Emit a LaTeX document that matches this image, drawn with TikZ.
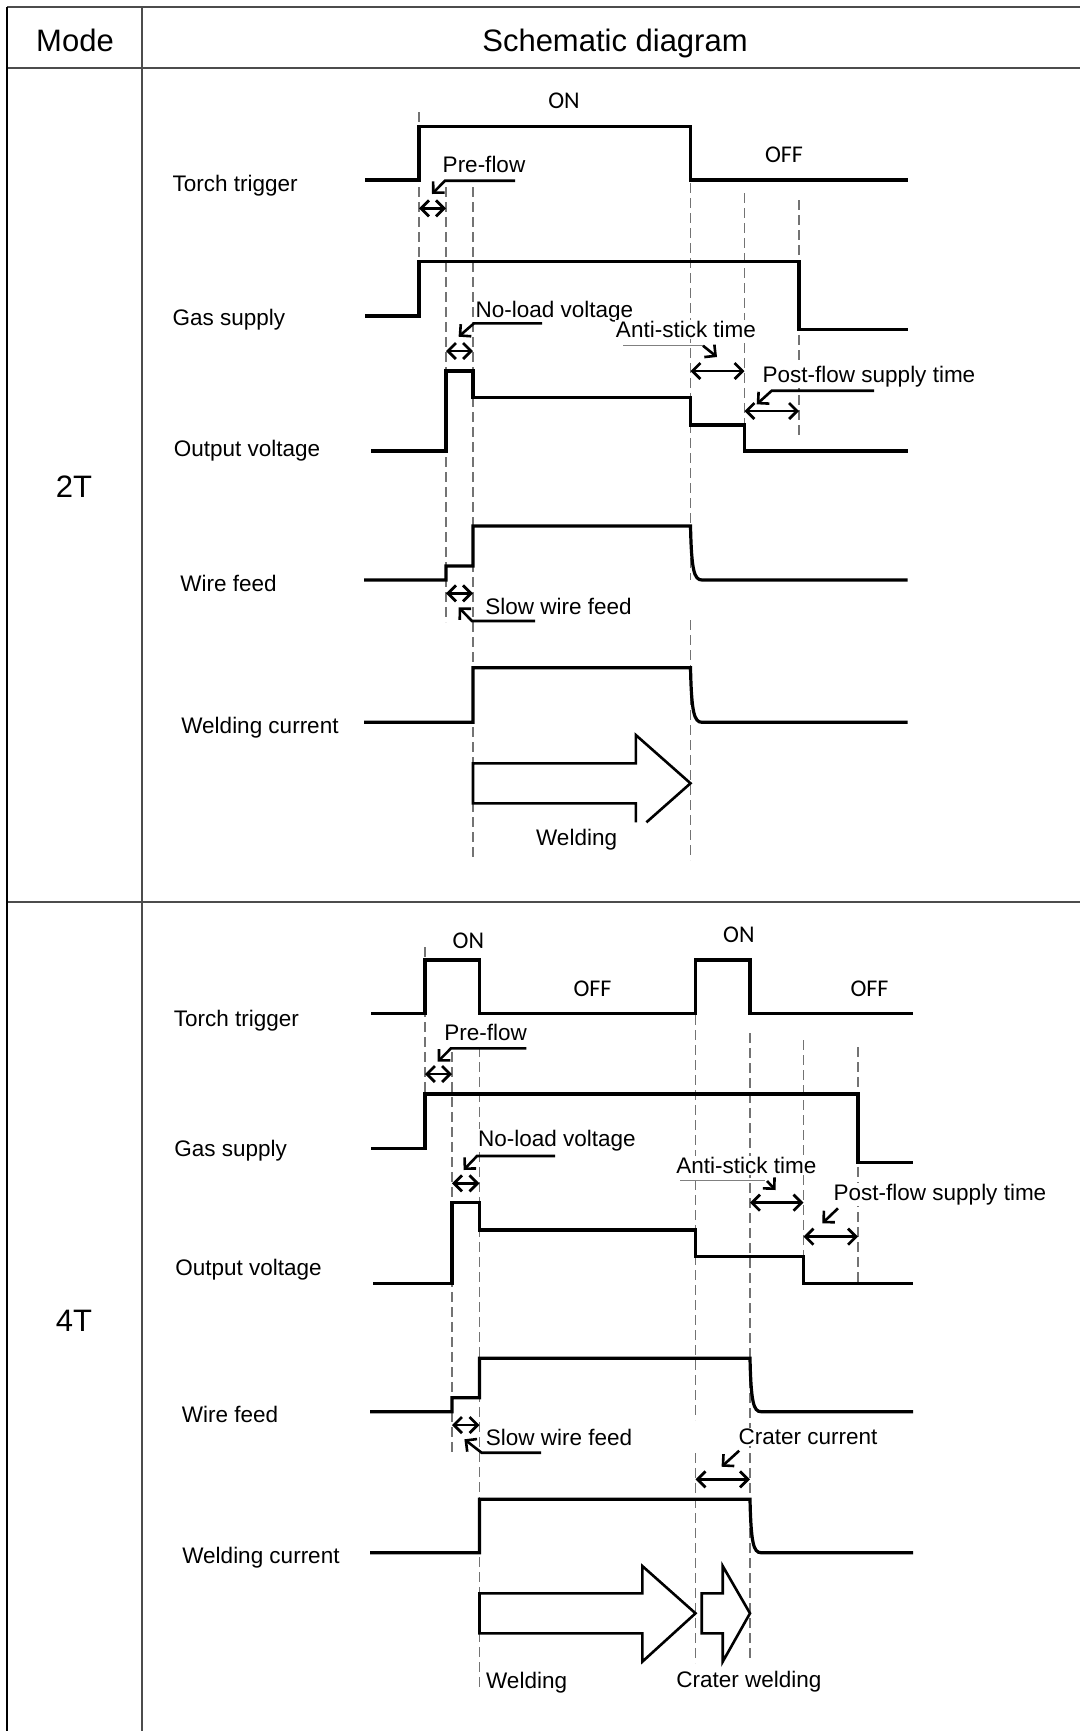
\documentclass[tikz,border=0pt]{standalone}
\usepackage{fontspec}
\setmainfont{Liberation Sans}
\newfontfamily\onofffont{Carlito}
\usetikzlibrary{arrows.meta}

\begin{document}
\begin{tikzpicture}[x=0.5pt, y=-0.5pt,
  sig/.style={line width=1.6pt, line join=miter},
  blk/.style={line width=1.3pt, line join=miter},
  guide/.style={black!55, line width=0.6pt, dash pattern=on 5pt off 2.5pt},
  span/.style={line width=1.4pt, {Straight Barb[length=4pt,width=8pt]}-{Straight Barb[length=4pt,width=8pt]}},
  lead/.style={line width=1.3pt, -{Straight Barb[length=4pt,width=8pt]}},
  tbl/.style={black!70, line width=1pt},
  lbl/.style={font=\fontsize{11.25}{13}\selectfont, inner sep=0pt, anchor=base west},
  note/.style={font=\fontsize{11.25}{13}\selectfont, inner sep=0.5pt, fill=white, anchor=base},
  trig/.style={font=\onofffont\fontsize{12}{14}\selectfont, inner sep=0pt, anchor=base},
  hdr/.style={font=\fontsize{15.5}{18}\selectfont, inner sep=0pt, anchor=base}]
  \useasboundingbox (0,0) rectangle (1080,1731);

  % Table
  \draw[tbl] (7,7.3) -- (1080,7.3);
  \draw[tbl] (7,68.3) -- (1080,68.3);
  \draw[tbl] (7,901.7) -- (1080,901.7);
  \draw[black, line width=1pt] (7.3,7.3) -- (7.3,1731);
  \draw[tbl] (141.7,7.3) -- (141.7,1731);
  \node[hdr] (mode) at (75,51) {Mode};
  \node[hdr] (schem) at (615,51) {Schematic diagram};
  \node[hdr] (m2t) at (74,497) {2T};
  \node[hdr] (m4t) at (74,1331) {4T};

  % 2T: guides
  \draw[guide] (419,112) -- (419,262);
  \draw[guide] (446,187) -- (446,622);
  \draw[guide] (473,187) -- (473,860);
  \draw[guide] (690.5,183) -- (690.5,580);
  \draw[guide] (690.5,620) -- (690.5,860);
  \draw[guide] (744.5,193) -- (744.5,451);
  \draw[guide] (799,200) -- (799,438);

  % 2T: signals
  \node[lbl] (tt2) at (172.3,191) {Torch trigger};
  \node[lbl] (gs2) at (172.3,325) {Gas supply};
  \node[lbl] (ov2) at (173.4,456) {Output voltage};
  \node[lbl] (wf2) at (180,591) {Wire feed};
  \node[lbl] (wc2) at (181,733.5) {Welding current};
  \draw[sig] (365,180) -- (419,180) -- (419,126.7) -- (690.5,126.7) -- (690.5,180) -- (907.5,180);
  \draw[sig] (365,316) -- (419,316) -- (419,261.7) -- (799,261.7) -- (799,329.3) -- (907.5,329.3);
  \draw[sig] (371,451) -- (446,451) -- (446,371) -- (473,371) -- (473,397.7) -- (690.5,397.7)
    -- (690.5,425) -- (744.5,425) -- (744.5,451) -- (907.5,451);
  \draw[sig] (364,580) -- (446,580) -- (446,566) -- (473,566) -- (473,526) -- (690.5,526)
    .. controls (691.5,570) and (694,580) .. (702,580) -- (907.5,580);
  \draw[sig] (364,722.3) -- (473,722.3) -- (473,667.7) -- (690.5,667.7)
    .. controls (691.5,712) and (694,722.3) .. (702,722.3) -- (907.5,722.3);
  \draw[blk] (635.8,822.3) -- (635.8,803.3) -- (473,803.3) -- (473,763.3) -- (635.8,763.3)
    -- (635.8,735) -- (690.5,783.3) -- (646.4,822.3);

  % 2T: notes
  \node[trig] (on2) at (564,108.5) {ON};
  \node[trig] (off2) at (784,162) {OFF};
  \node[note] (pre2) at (484,172) {Pre-flow};
  \node[note] (nl2) at (554.5,317) {No-load voltage};
  \node[note] (as2) at (686,337.5) {Anti-stick time};
  \node[note] (pf2) at (869,382.5) {Post-flow supply time};
  \node[note] (sw2) at (558.5,614) {Slow wire feed};
  \node[note] (wd2) at (576.6,845.5) {Welding};
  \draw[lead] (515,180.7) -- (445,180.7) -- (432,194);
  \draw[lead] (542,323.3) -- (474,323.3) -- (458.6,336.7);
  \draw[gray, line width=0.4pt] (623,345.7) -- (703,345.7);
  \draw[lead] (703,345.7) -- (717,357);
  \draw[lead] (874,390.7) -- (771.7,390.7) -- (756.7,404.3);
  \draw[lead] (535,621) -- (472,621) -- (458.6,607.3);
  \draw[span] (419,208.3) -- (446,208.3);
  \draw[span] (446,351) -- (473,351);
  \draw[span] (690.5,371) -- (744.5,371);
  \draw[span] (744.5,411) -- (799,411);
  \draw[span] (446,593.3) -- (473,593.3);

  % 4T: guides
  \draw[guide] (425,947) -- (425,1094);
  \draw[guide] (452,1052) -- (452,1453);
  \draw[guide] (479.5,1047) -- (479.5,1690);
  \draw[guide] (695.5,1015) -- (695.5,1420);
  \draw[guide] (695.5,1453) -- (695.5,1663);
  \draw[guide] (750,1033) -- (750,1660);
  \draw[guide] (803.5,1040) -- (803.5,1283);
  \draw[guide] (858,1047) -- (858,1283);

  % 4T: signals
  \node[lbl] (tt4) at (173.4,1026) {Torch trigger};
  \node[lbl] (gs4) at (174,1156) {Gas supply};
  \node[lbl] (ov4) at (175,1275) {Output voltage};
  \node[lbl] (wf4) at (181.5,1422) {Wire feed};
  \node[lbl] (wc4) at (182,1563) {Welding current};
  \draw[sig] (371,1013.3) -- (425,1013.3) -- (425,960) -- (479.5,960) -- (479.5,1013.3) -- (695.5,1013.3)
    -- (695.5,960) -- (750,960) -- (750,1013.3) -- (912.5,1013.3);
  \draw[sig] (371,1148.3) -- (425,1148.3) -- (425,1094) -- (858,1094) -- (858,1162.3) -- (912.5,1162.3);
  \draw[sig] (373,1283.3) -- (452,1283.3) -- (452,1202.3) -- (479.5,1202.3) -- (479.5,1230) -- (695.5,1230)
    -- (695.5,1256.7) -- (803.5,1256.7) -- (803.5,1283.3) -- (912.5,1283.3);
  \draw[sig] (370,1411.7) -- (452,1411.7) -- (452,1397.7) -- (479.5,1397.7) -- (479.5,1358.3) -- (750,1358.3)
    .. controls (751,1402) and (753.5,1411.7) .. (761,1411.7) -- (913,1411.7);
  \draw[sig] (370,1552.7) -- (479.5,1552.7) -- (479.5,1499.3) -- (750,1499.3)
    .. controls (751,1543) and (753.5,1552.7) .. (761,1552.7) -- (913,1552.7);
  \draw[blk] (479.5,1593.3) -- (642.3,1593.3) -- (642.3,1566) -- (695.5,1613.3) -- (642.3,1661.7)
    -- (642.3,1633.3) -- (479.5,1633.3) -- cycle;
  \draw[blk] (701.7,1593.3) -- (722.7,1593.3) -- (722.7,1566) -- (750,1613.3) -- (722.7,1661.7)
    -- (722.7,1633.3) -- (701.7,1633.3) -- cycle;

  % 4T: notes
  \node[trig] (on4a) at (468.4,948.7) {ON};
  \node[trig] (on4b) at (738.8,942) {ON};
  \node[trig] (off4a) at (592.5,996.3) {OFF};
  \node[trig] (off4b) at (869.5,996.3) {OFF};
  \node[note] (pre4) at (485.6,1040.7) {Pre-flow};
  \node[note] (nl4) at (557,1146.3) {No-load voltage};
  \node[note] (as4) at (746.3,1173.5) {Anti-stick time};
  \node[note] (pf4) at (940,1200) {Post-flow supply time};
  \node[note] (sw4) at (559,1445.5) {Slow wire feed};
  \node[note] (cc4) at (808,1444.7) {Crater current};
  \node[note] (wd4) at (526.6,1688) {Welding};
  \node[note] (cw4) at (749,1687) {Crater welding};
  \draw[lead] (526.4,1048.3) -- (451,1048.3) -- (437.7,1061.7);
  \draw[lead] (555,1156) -- (477,1156) -- (463.6,1170);
  \draw[gray, line width=0.4pt] (680,1180) -- (765,1180);
  \draw[lead] (767,1181) -- (775.5,1190);
  \draw[lead] (838,1208.3) -- (822.3,1223.3);
  \draw[lead] (541,1452.7) -- (481.6,1452.7) -- (464.4,1439.3);
  \draw[lead] (739.2,1450.7) -- (721.6,1466.7);
  \draw[span] (425,1074) -- (452,1074);
  \draw[span] (452,1183.3) -- (479.5,1183.3);
  \draw[span] (750,1202.7) -- (803.5,1202.7);
  \draw[span] (803.5,1236.7) -- (858,1236.7);
  \draw[span] (452,1425) -- (479.5,1425);
  \draw[span] (695.5,1479.3) -- (750,1479.3);
\end{tikzpicture}
\end{document}
